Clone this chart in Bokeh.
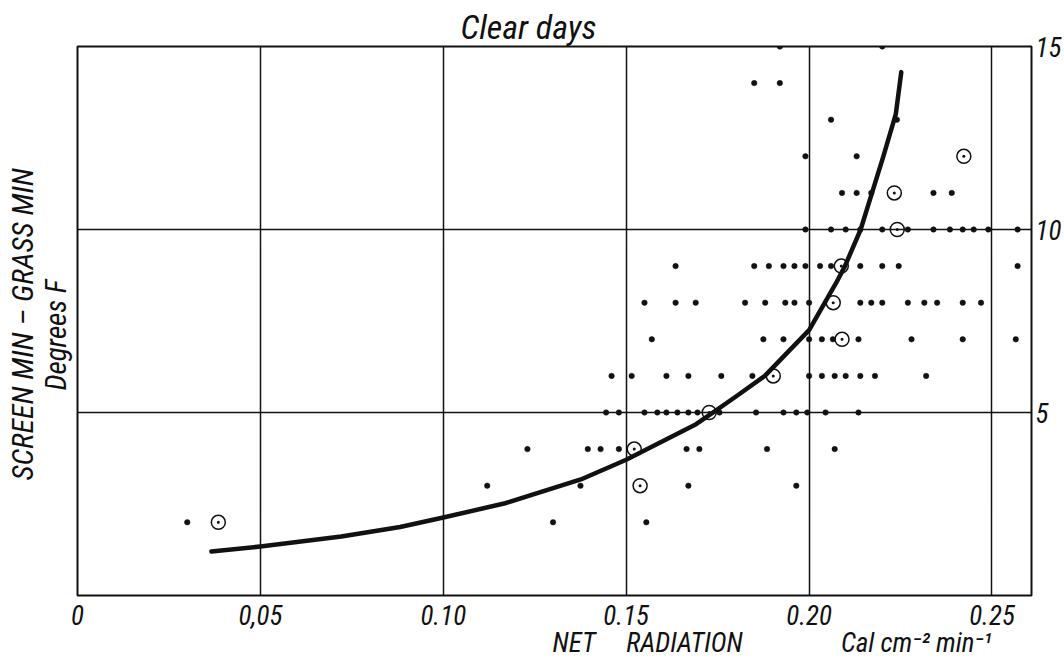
from bokeh.plotting import figure
from bokeh.models import Range1d, FixedTicker, Title
from bokeh.embed import file_html
from bokeh.resources import INLINE

# ---------------- data ----------------
# small dots, grouped by their (integer) y value
row15_x = [0.192, 0.220]
row14_x = [0.185, 0.192]
row13_x = [0.206, 0.224]
row12_x = [0.199, 0.213]
row11_x = [0.209, 0.213, 0.217, 0.234, 0.239]
row10_x = [0.199, 0.206, 0.210, 0.214, 0.220, 0.227, 0.234, 0.2385, 0.242, 0.245, 0.249, 0.257]
row9_x = [0.1635, 0.185, 0.189, 0.193, 0.196, 0.199, 0.203, 0.206, 0.214, 0.220, 0.2245, 0.257]
row8_x = [0.155, 0.1635, 0.169, 0.1825, 0.188, 0.1935, 0.196, 0.200, 0.214, 0.217, 0.220,
          0.227, 0.2315, 0.235, 0.242, 0.247]
row7_x = [0.157, 0.1875, 0.193, 0.200, 0.2035, 0.2065, 0.2135, 0.228, 0.242, 0.2565]
row6_x = [0.146, 0.1515, 0.161, 0.167, 0.176, 0.1845, 0.200, 0.2035, 0.207, 0.210, 0.214,
          0.218, 0.232]
row5_x = [0.1445, 0.148, 0.155, 0.1585, 0.161, 0.164, 0.167, 0.1695, 0.1755, 0.1855, 0.193,
          0.1965, 0.1995, 0.2045, 0.2135]
row4_x = [0.123, 0.1395, 0.143, 0.148, 0.1665, 0.170, 0.1885, 0.207]
row3_x = [0.112, 0.1375, 0.167, 0.1965]
row2_x = [0.030, 0.130, 0.1555]

# ringed points (means)
ring_x = [0.0385, 0.1522, 0.1538, 0.1727, 0.1902, 0.2090, 0.2066, 0.2088, 0.2241, 0.2233, 0.2423]
ring_y = [2, 4, 3, 5, 6, 7, 8, 9, 10, 11, 12]

# fitted curve, points
curve_x = [0.0366, 0.05, 0.0721, 0.0882, 0.10, 0.1169, 0.1376, 0.15, 0.1691, 0.1735, 0.1802,
           0.1879, 0.20, 0.2043, 0.2075, 0.2098, 0.2141, 0.2172, 0.2203, 0.2237, 0.2252]
curve_y = [1.20, 1.34, 1.61, 1.87, 2.13, 2.52, 3.17, 3.71, 4.68, 4.98, 5.45,
           6.0, 7.25, 8.0, 8.56, 9.0, 10.0, 11.0, 12.0, 13.15, 14.3]

x_ticks = [0, 0.05, 0.1, 0.15, 0.2, 0.25]
x_tick_labels = ["0", "0,05", "0.10", "0.15", "0.20", "0.25"]
y_ticks = [5, 10, 15]

title_text = "Clear days"
y_label_1 = "SCREEN MIN – GRASS MIN"
y_label_2 = "Degrees F"
x_label = "NET" + "\u00a0" * 5 + "RADIATION" + "\u00a0" * 16 + "Cal cm⁻² min⁻¹"

rows = [(15, row15_x), (14, row14_x), (13, row13_x), (12, row12_x), (11, row11_x),
        (10, row10_x), (9, row9_x), (8, row8_x), (7, row7_x), (6, row6_x), (5, row5_x),
        (4, row4_x), (3, row3_x), (2, row2_x)]
dot_x, dot_y = [], []
for yv, xs in rows:
    dot_x += xs
    dot_y += [yv] * len(xs)

FONT = "Roboto Condensed, Liberation Sans"
INK = "#111111"

p = figure(width=1064, height=658, x_range=Range1d(0, 0.2608), y_range=Range1d(0, 15),
           output_backend="svg", toolbar_location=None, y_axis_location="right",
           min_border_left=77, min_border_right=29, min_border_top=46, min_border_bottom=63,
           title=title_text)
p.background_fill_color = "white"
p.border_fill_color = "white"
p.outline_line_color = INK
p.outline_line_width = 2

# title
p.title.text_font = FONT
p.title.text_font_style = "italic"
p.title.text_font_size = "34px"
p.title.text_color = INK
p.title.align = "left"
p.title.offset = 383
p.title.standoff = 0

# grid
p.xgrid.ticker = FixedTicker(ticks=[0.05, 0.1, 0.15, 0.2, 0.25])
p.ygrid.ticker = FixedTicker(ticks=[5, 10])
p.grid.grid_line_color = INK
p.grid.grid_line_width = 1.5
p.grid.grid_line_alpha = 1.0

# bottom axis
xa = p.xaxis[0]
xa.ticker = FixedTicker(ticks=x_ticks)
xa.major_label_overrides = {t: l for t, l in zip(x_ticks, x_tick_labels)}
xa.axis_line_color = None
xa.major_tick_line_color = None
xa.minor_tick_line_color = None
xa.major_tick_out = 0
xa.major_label_standoff = 9
xa.major_label_text_font = FONT
xa.major_label_text_font_style = "italic"
xa.major_label_text_font_size = "27px"
xa.major_label_text_color = INK

# right axis
ya = p.yaxis[0]
ya.ticker = FixedTicker(ticks=y_ticks)
ya.axis_line_color = None
ya.major_tick_line_color = None
ya.minor_tick_line_color = None
ya.major_tick_out = 0
ya.major_label_standoff = 4
ya.major_label_text_font = FONT
ya.major_label_text_font_style = "italic"
ya.major_label_text_font_size = "27px"
ya.major_label_text_color = INK

# y titles on the left (first one is nearest the frame)
p.add_layout(Title(text=y_label_2, align="left", offset=205, standoff=9, text_font=FONT,
                   text_font_style="italic", text_font_size="29px", text_color=INK),
             "left")
p.add_layout(Title(text=y_label_1, align="left", offset=115, standoff=-15, text_font=FONT,
                   text_font_style="italic", text_font_size="30px", text_color=INK),
             "left")

# x title below the axis
p.add_layout(Title(text=x_label, align="left", offset=475, standoff=-6, text_font=FONT,
                   text_font_style="italic", text_font_size="27px", text_color=INK),
             "below")

# curve
p.line(curve_x, curve_y, line_color=INK, line_width=4.5, line_join="round", line_cap="round")

# dots
p.scatter(dot_x, dot_y, size=5.5, fill_color=INK, line_color=INK, line_width=0.5)

# rings with centre dot
p.scatter(ring_x, ring_y, size=14, fill_color=None, line_color=INK, line_width=1.5)
p.scatter(ring_x, ring_y, size=3, fill_color=INK, line_color=None)

open("out.html", "w").write(file_html(p, INLINE))
